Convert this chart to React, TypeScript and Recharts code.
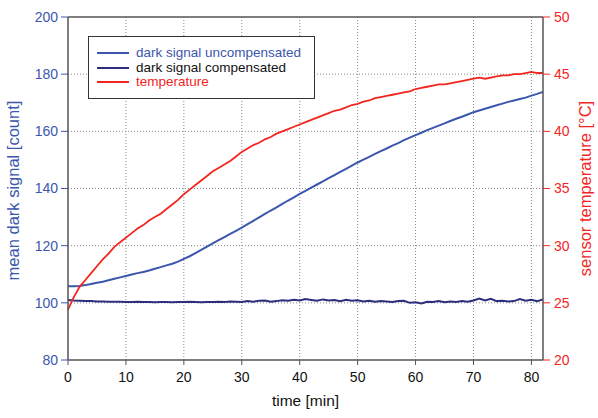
import React from 'react';
import {
    LineChart,
    Line,
    XAxis,
    YAxis,
    CartesianGrid,
    ReferenceLine,
} from 'recharts';

const minutes = Array.from({ length: 83 }, (_, i) => i);

const uncompensated = [
    105.8, 105.8, 105.9, 106.2, 106.6, 107.0, 107.4, 107.9, 108.4, 108.9,
    109.4, 109.9, 110.4, 110.8, 111.3, 111.9, 112.5, 113.1, 113.7, 114.4,
    115.4, 116.3, 117.4, 118.5, 119.7, 120.8, 121.9, 123.0, 124.1, 125.2,
    126.3, 127.5, 128.7, 129.9, 131.1, 132.3, 133.4, 134.6, 135.8, 136.9,
    138.1, 139.2, 140.3, 141.4, 142.5, 143.6, 144.7, 145.8, 146.9, 148.0,
    149.1, 150.1, 151.1, 152.1, 153.1, 154.0, 155.0, 155.9, 156.9, 157.8,
    158.7, 159.5, 160.4, 161.2, 162.0, 162.8, 163.6, 164.4, 165.1, 165.9,
    166.7, 167.3, 167.9, 168.5, 169.1, 169.7, 170.3, 170.8, 171.3, 171.8,
    172.5, 173.1, 173.8,
];

const compensated = [
    101.0, 100.8, 100.7, 100.6, 100.6, 100.5, 100.5, 100.4, 100.4, 100.4,
    100.3, 100.3, 100.4, 100.3, 100.3, 100.2, 100.3, 100.3, 100.2, 100.3,
    100.3, 100.4, 100.3, 100.2, 100.3, 100.3, 100.4, 100.3, 100.5, 100.4,
    100.3, 100.6, 100.4, 100.7, 100.8, 100.4, 100.6, 100.9, 100.7, 101.1,
    100.8, 101.3, 101.0, 100.7, 101.2, 100.8, 101.0, 100.6, 101.1, 100.7,
    100.9, 100.5, 100.7, 100.4, 100.6, 100.5, 100.3, 100.6, 100.7, 100.0,
    100.2, 99.8, 100.4, 100.3, 100.6, 100.2, 100.5, 100.3, 100.6, 100.4,
    100.8, 101.5, 100.8, 101.4, 100.6, 100.7, 100.5, 100.6, 101.3, 100.7,
    101.1, 100.6, 101.2,
];

const temperature = [
    24.4, 25.5, 26.4, 27.0, 27.6, 28.2, 28.8, 29.3, 29.9, 30.3,
    30.7, 31.1, 31.5, 31.8, 32.2, 32.5, 32.8, 33.2, 33.6, 34.0,
    34.5, 34.9, 35.3, 35.7, 36.1, 36.5, 36.8, 37.1, 37.4, 37.8,
    38.2, 38.5, 38.8, 39.0, 39.3, 39.5, 39.8, 40.0, 40.2, 40.4,
    40.6, 40.8, 41.0, 41.2, 41.4, 41.6, 41.8, 41.9, 42.1, 42.3,
    42.4, 42.6, 42.7, 42.9, 43.0, 43.1, 43.2, 43.3, 43.4, 43.5,
    43.7, 43.8, 43.9, 44.0, 44.1, 44.1, 44.2, 44.3, 44.4, 44.5,
    44.6, 44.7, 44.6, 44.7, 44.8, 44.9, 44.9, 45.0, 45.0, 45.1,
    45.2, 45.1, 45.1,
];

const timeTicks = [0, 10, 20, 30, 40, 50, 60, 70, 80];
const signalTicks = [80, 100, 120, 140, 160, 180, 200];
const tempTicks = [20, 25, 30, 35, 40, 45, 50];

const data = minutes.map((t, i) => ({
    time: t,
    uncomp: uncompensated[i],
    comp: compensated[i],
    temp: temperature[i],
}));

const BLUE = '#3b57ad';
const NAVY = '#2c2f7c';
const RED = '#f2261f';
const AXIS = '#555555';
const FONT = '"Liberation Sans", Arial, sans-serif';

const legendItems = [
    { label: 'dark signal uncompensated', color: BLUE, text: BLUE },
    { label: 'dark signal compensated', color: NAVY, text: '#111111' },
    { label: 'temperature', color: RED, text: RED },
];

// legend drawn as a plain box on top of the plot, like the original
const LegendBox = () => (
    <div
        style={{
            position: 'absolute',
            left: 88,
            top: 36,
            width: 227,
            height: 63,
            border: '1.5px solid #333',
            background: '#fff',
            boxSizing: 'border-box',
            padding: '9px 0 0 8px',
            fontFamily: FONT,
        }}
    >
        {legendItems.map((item) => (
            <div key={item.label} style={{ display: 'flex', alignItems: 'center', height: 14.5 }}>
                <div style={{ width: 32, height: 2, background: item.color, marginRight: 7 }} />
                <span style={{ fontSize: 13.5, color: item.text, lineHeight: '14px' }}>{item.label}</span>
            </div>
        ))}
    </div>
);

export default function App() {
    return (
        <div style={{ position: 'absolute', left: 0, top: 0, width: 598, height: 418, background: '#fff' }}>
            <LineChart
                width={598}
                height={418}
                data={data}
                margin={{ top: 17, right: 0, left: 0, bottom: 0 }}
                style={{ fontFamily: FONT }}
            >
                <CartesianGrid
                    yAxisId="left"
                    stroke="#8a8a8a"
                    strokeDasharray="1 2"
                    horizontalValues={[100, 120, 140, 160, 180]}
                    verticalValues={[10, 20, 30, 40, 50, 60, 70, 80]}
                />
                <XAxis
                    dataKey="time"
                    type="number"
                    domain={[0, 82]}
                    ticks={timeTicks}
                    height={58}
                    tickSize={5}
                    tickMargin={7}
                    axisLine={{ stroke: AXIS, strokeWidth: 1.5 }}
                    tickLine={{ stroke: AXIS }}
                    tick={{ fill: '#111', fontSize: 14 }}
                    label={{ value: 'time [min]', position: 'insideBottom', offset: 12, fill: '#111', fontSize: 15.5 }}
                />
                <YAxis
                    yAxisId="left"
                    domain={[80, 200]}
                    ticks={signalTicks}
                    width={68}
                    tickSize={7}
                    tickMargin={3}
                    axisLine={{ stroke: AXIS, strokeWidth: 1.5 }}
                    tickLine={{ stroke: BLUE }}
                    tick={{ fill: BLUE, fontSize: 14 }}
                    label={{
                        value: 'mean dark signal [count]',
                        angle: -90,
                        position: 'center',
                        dx: -21,
                        dy: 2,
                        fill: BLUE,
                        fontSize: 16.5,
                    }}
                />
                <YAxis
                    yAxisId="right"
                    orientation="right"
                    domain={[20, 50]}
                    ticks={tempTicks}
                    width={55}
                    tickSize={7}
                    tickMargin={4}
                    axisLine={{ stroke: AXIS, strokeWidth: 1.5 }}
                    tickLine={{ stroke: RED }}
                    tick={{ fill: RED, fontSize: 14 }}
                    label={{
                        value: 'sensor temperature [°C]',
                        angle: -90,
                        position: 'center',
                        dx: 15,
                        fill: RED,
                        fontSize: 16.5,
                    }}
                />
                <ReferenceLine yAxisId="left" y={200} stroke={AXIS} strokeWidth={1.5} />
                <Line
                    yAxisId="left"
                    dataKey="comp"
                    name="dark signal compensated"
                    stroke={NAVY}
                    strokeWidth={2}
                    dot={false}
                    isAnimationActive={false}
                />
                <Line
                    yAxisId="left"
                    dataKey="uncomp"
                    name="dark signal uncompensated"
                    stroke={BLUE}
                    strokeWidth={2}
                    dot={false}
                    isAnimationActive={false}
                />
                <Line
                    yAxisId="right"
                    dataKey="temp"
                    name="temperature"
                    stroke={RED}
                    strokeWidth={1.8}
                    dot={false}
                    isAnimationActive={false}
                />
            </LineChart>
            <LegendBox />
        </div>
    );
}
